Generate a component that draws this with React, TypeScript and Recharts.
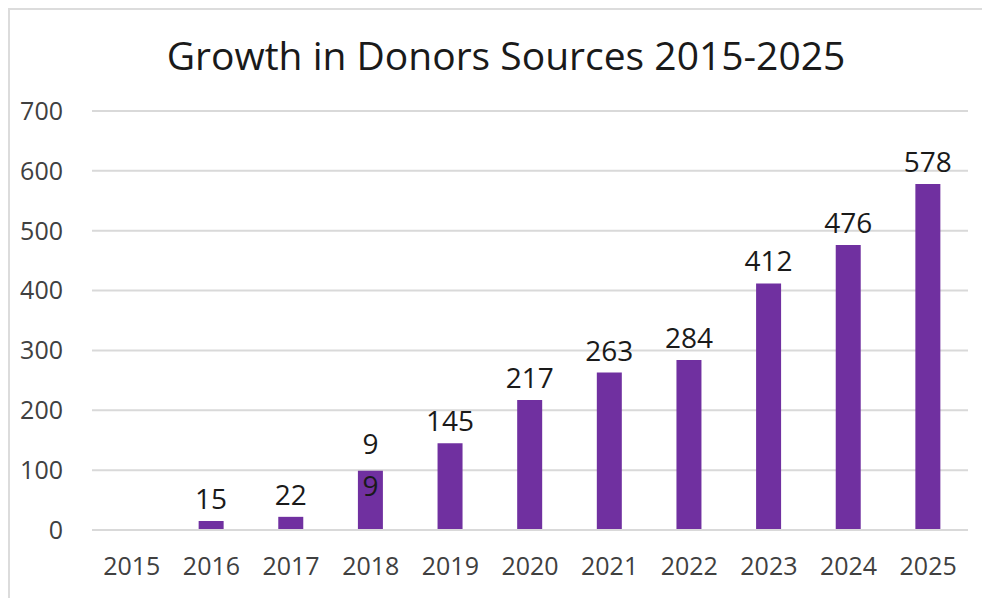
import React from "react";
import { BarChart, Bar, XAxis, YAxis, CartesianGrid, LabelList } from "recharts";

const categories = ["2015", "2016", "2017", "2018", "2019", "2020", "2021", "2022", "2023", "2024", "2025"];
const donors = [0, 15, 22, 99, 145, 217, 263, 284, 412, 476, 578];
const yTicks = [0, 100, 200, 300, 400, 500, 600, 700];
const wrappedLabelCategories = ["2018"];

const data = categories.map((year, i) => ({ year, donors: donors[i] }));

const FONT = "'Open Sans', 'Noto Sans', sans-serif";

const labelText = (row: any) => {
  if (!row || !row.donors) return "";
  const s = String(row.donors);
  return wrappedLabelCategories.includes(row.year) ? s.split("").join("\n") : s;
};

const renderLabel = (props: any) => {
  const { x, y, width, value } = props;
  if (!value) return null;
  const cx = Number(x) + Number(width) / 2;
  const lines = String(value).split("\n");
  const lift = lines.length > 1 ? 17 : 12;
  return (
    <text
      x={cx}
      y={Number(y) - lift}
      textAnchor="middle"
      fontFamily={FONT}
      fontSize={28}
      fill="#1a1a1a"
    >
      {lines.map((l, k) => (
        <tspan key={k} x={cx} dy={k === 0 ? 0 : 42}>
          {l}
        </tspan>
      ))}
    </text>
  );
};

export default function App() {
  return (
    <div
      style={{
        position: "relative",
        width: 982,
        height: 590,
        borderTop: "2px solid #dcdcdc",
        borderLeft: "2px solid #dcdcdc",
        boxSizing: "border-box",
        background: "#fff",
      }}
    >
      <div
        style={{
          position: "absolute",
          left: 0,
          top: 21,
          width: 992,
          textAlign: "center",
          fontFamily: FONT,
          fontSize: 39,
          color: "#1a1a1a",
          lineHeight: "48px",
          whiteSpace: "nowrap",
        }}
      >
        Growth in Donors Sources 2015-2025
      </div>
      <BarChart
        width={980}
        height={588}
        data={data}
        margin={{ top: 101, right: 22, left: 0, bottom: 38 }}
        barCategoryGap={0}
      >
        <CartesianGrid vertical={false} stroke="#d9d9d9" strokeWidth={2} />
        <XAxis
          dataKey="year"
          height={30}
          axisLine={{ stroke: "#d9d9d9", strokeWidth: 2 }}
          tickLine={false}
          tickSize={0}
          tickMargin={27}
          tick={{ fontFamily: FONT, fontSize: 25, fill: "#404040" }}
          interval={0}
        />
        <YAxis
          width={82}
          domain={[0, 700]}
          ticks={yTicks}
          axisLine={false}
          tickLine={false}
          tickSize={0}
          tickMargin={29}
          tick={{ fontFamily: FONT, fontSize: 25, fill: "#404040" }}
        />
        <Bar dataKey="donors" fill="#7030A0" barSize={25} isAnimationActive={false}>
          <LabelList dataKey={labelText} content={renderLabel} />
        </Bar>
      </BarChart>
    </div>
  );
}
